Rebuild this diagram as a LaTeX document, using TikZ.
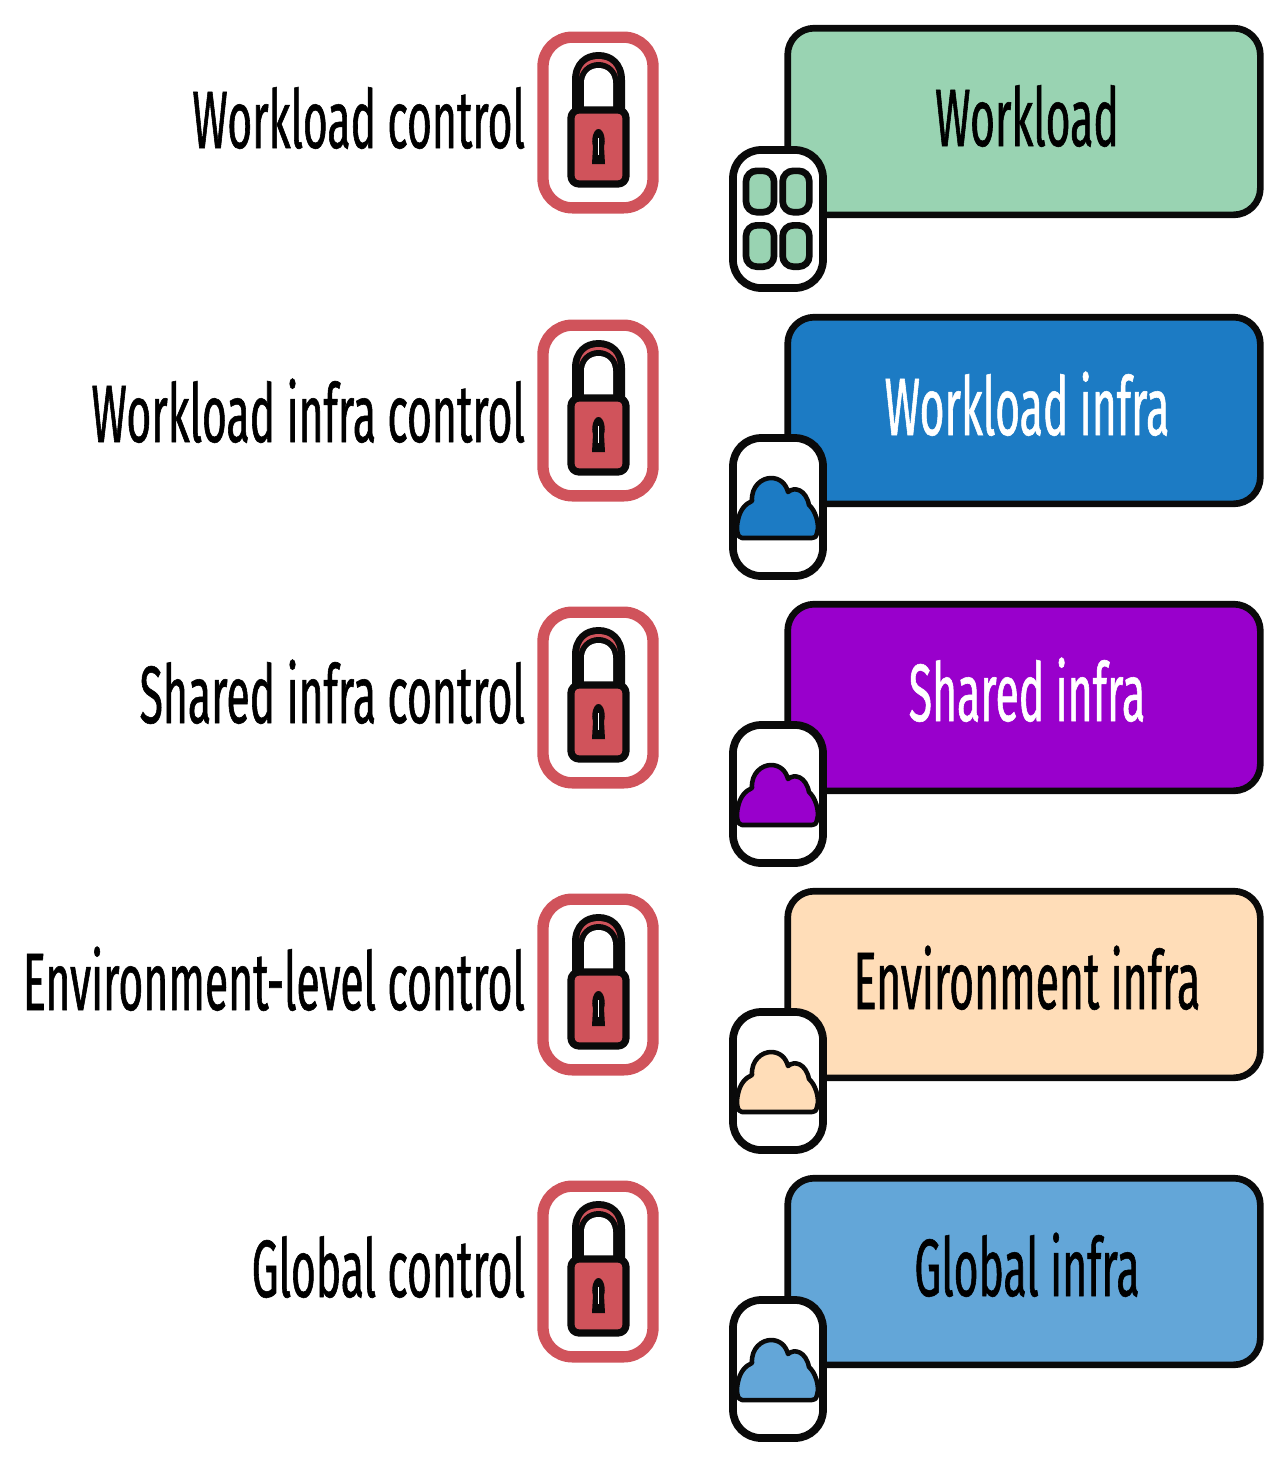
\documentclass[tikz,border=0pt]{standalone}
\usepackage{fontspec}
\setmainfont[FakeStretch=0.525,FakeBold=0.7]{Fira Sans}
\definecolor{lockred}{HTML}{D0535B}
\definecolor{cgreen}{HTML}{99D3B2}
\definecolor{cblue}{HTML}{1C7BC4}
\definecolor{cpurple}{HTML}{9900CC}
\definecolor{cpeach}{HTML}{FFDDB8}
\definecolor{clight}{HTML}{63A6D8}
\definecolor{inkk}{HTML}{0A0A0A}
\tikzset{
  lbl/.style={inner sep=0pt,outer sep=0pt,font=\fontsize{61}{61}\selectfont,text=black},
  frame/.style={draw=lockred,line width=8.5pt,rounded corners=22pt,fill=white,minimum width=82.5pt,minimum height=128pt,inner sep=0pt},
  bigbox/.style={draw=inkk,line width=5pt,rounded corners=20pt,minimum width=354.5pt,minimum height=140pt,inner sep=0pt},
  iconbox/.style={draw=inkk,line width=5.8pt,rounded corners=21pt,fill=white,minimum width=67.5pt,minimum height=103.5pt,inner sep=0pt},
  tile/.style={draw=inkk,line width=5pt,rounded corners=8pt,inner sep=0pt},
  cloudline/.style={draw=inkk,line width=3.4pt,line join=round}
}
\newcommand{\lockicon}{%
  \fill[inkk] (572,112) -- (572,80) .. controls (572,62) and (584,52) .. (598.5,52) .. controls (613,52) and (625,62) .. (625,80) -- (625,112) -- cycle;
  \fill[lockred] (579,100) -- (579,80) .. controls (579,66) and (587,59) .. (598.5,59) .. controls (610,59) and (618,66) .. (618,80) -- (618,100) -- cycle;
  \fill[inkk] (578,112) -- (578,84) .. controls (578,70) and (588,62) .. (598.5,62) .. controls (609,62) and (619,70) .. (619,84) -- (619,112) -- cycle;
  \fill[white] (584,107) -- (584,83) .. controls (584,74) and (590,68) .. (598.5,68) .. controls (607,68) and (613,74) .. (613,83) -- (613,107) -- cycle;
  \draw[fill=lockred,draw=inkk,line width=5.4pt,rounded corners=6pt,line join=round] (571,110) rectangle (626,184);
  \fill[inkk] (598.5,129) .. controls (604,129) and (606,141) .. (604,146) -- (605,164) -- (592,164) -- (593,146) .. controls (591,141) and (593,129) .. (598.5,129) -- cycle;
  \draw[white,line width=0.9pt] (598.5,138) -- (598.5,155);
}
\newcommand{\cloudicon}[1]{%
  \draw[cloudline,fill=#1] (742,250) .. controls (737,250) and (736,240) .. (738,232) .. controls (740,222) and (745,216) .. (752,213) .. controls (751,198) and (762,190) .. (771,190) .. controls (780,190) and (786,196) .. (788,204) .. controls (795,198) and (806,202) .. (809,217) .. controls (815,222) and (820,236) .. (817,245) .. controls (816,249) and (815,250) .. (812,250) -- cycle;
}
\newcommand{\gridicon}[2]{%
  \node[tile,fill=#1,minimum width=21pt,minimum height=31pt] (#2a) at (760,191.5) {};
  \node[tile,fill=#1,minimum width=20pt,minimum height=31pt] (#2b) at (796,191.5) {};
  \node[tile,fill=#1,minimum width=21pt,minimum height=31pt] (#2c) at (760,246) {};
  \node[tile,fill=#1,minimum width=20pt,minimum height=31pt] (#2d) at (796,246) {};
}
% #1 name, #2 lock offset, #3 box offset, #4 icon offset, #5 fill
% #6 left text, #7 left baseline
\newcommand{\diagramrow}[7]{%
  \begin{scope}[shift={(0,#2)}]
    \node[frame] (#1frame) at (598,122.5) {};
    \lockicon
  \end{scope}
  \node[bigbox,fill=#5] (#1box) at (1024,{121.5+#3}) {};
  \node[iconbox] (#1icon) at (778,{219+#4}) {};
  \begin{scope}[shift={(0,#4)}]
    \rowicon{#1}{#5}
  \end{scope}
  \node[lbl,anchor=base east] (#1left) at (525,#7) {#6};
}
\newcommand{\rowicon}[2]{\cloudicon{#2}}
\begin{document}
\begin{tikzpicture}[x=0.75pt,y=-0.75pt]
\useasboundingbox (0,0) rectangle (1282,1479);
\renewcommand{\rowicon}[2]{\gridicon{#2}{#1}}
\diagramrow{wl}{0}{0}{0}{cgreen}{Workload control}{148}
\node[lbl,anchor=base] (wlright) at (1027,146) {Workload};
\renewcommand{\rowicon}[2]{\cloudicon{#2}}
\diagramrow{wi}{288}{289}{288}{cblue}{Workload infra control}{442}
\node[lbl,anchor=base,text=white] (wiright) at (1027,435) {Workload infra};
\diagramrow{si}{575}{576}{575}{cpurple}{Shared infra control}{723}
\node[lbl,anchor=base,text=white] (siright) at (1027,721) {Shared infra};
\diagramrow{ei}{862}{863}{862}{cpeach}{Environment-level control}{1010}
\node[lbl,anchor=base] (eiright) at (1027,1009) {Environment infra};
\diagramrow{gi}{1149}{1150}{1150}{clight}{Global control}{1297}
\node[lbl,anchor=base] (giright) at (1027,1296) {Global infra};
\end{tikzpicture}
\end{document}
